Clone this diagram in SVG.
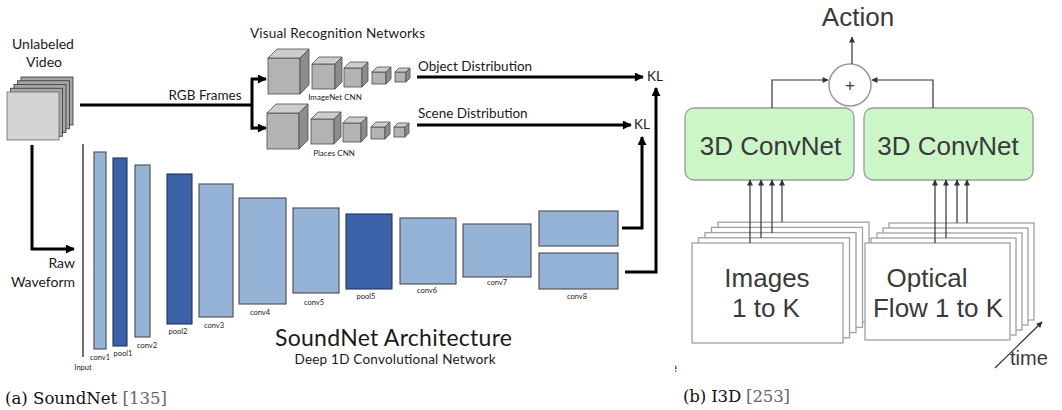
<svg xmlns="http://www.w3.org/2000/svg" width="1062" height="410" viewBox="0 0 1062 410">
  <style>
    .cal { font-family: Lato, "Liberation Sans", sans-serif; fill: #1a1a1a; }
    .hel { font-family: "Liberation Sans", Arial, sans-serif; fill: #3a3a3a; }
    .cap { font-family: "DejaVu Serif", "Liberation Serif", serif; font-size: 16.6px; fill: #111; }
    .ref { fill: #666; }
    .lbl { font-size: 7.5px; text-anchor: middle; }
    .thick { fill: none; stroke: #000; stroke-width: 3; }
    .thin { fill: none; stroke: #333; stroke-width: 1.2; }
    .lite { fill: #95b3d7; stroke: #4a4a4a; stroke-width: 1.1; }
    .dark { fill: #3b62a8; stroke: #1f3660; stroke-width: 1.1; }
    .cf { fill: #b3b3b3; stroke: #4d4d4d; stroke-width: 0.8; }
    .ct { fill: #cdcdcd; stroke: #4d4d4d; stroke-width: 0.8; }
    .cs { fill: #8c8c8c; stroke: #4d4d4d; stroke-width: 0.8; }
    .frame { fill: #fff; stroke: #a0a0a0; stroke-width: 1.3; }
    .green { fill: #ccf5c8; stroke: #9a9a9a; stroke-width: 1.3; }
  </style>
  <defs>
    <marker id="bigHead" viewBox="0 0 10 10" refX="9" refY="5" markerWidth="11" markerHeight="9" markerUnits="userSpaceOnUse" orient="auto">
      <path d="M0,0 L10,5 L0,10 z" fill="#000"/>
    </marker>
    <marker id="smallHead" viewBox="0 0 10 10" refX="9" refY="5" markerWidth="7" markerHeight="6" markerUnits="userSpaceOnUse" orient="auto">
      <path d="M0,0 L10,5 L0,10 z" fill="#333"/>
    </marker>
    <clipPath id="fragClip"><rect x="675" y="350" width="10" height="30"/></clipPath>
    <!-- one row of CNN cubes: front, top and side faces -->
    <g id="cubeRow">
      <rect class="cf" x="268" y="58" width="32" height="36"/>
      <polygon class="ct" points="268,58 277,49 309,49 300,58"/>
      <polygon class="cs" points="300,58 309,49 309,85 300,94"/>
      <rect class="cf" x="312" y="64" width="23" height="25"/>
      <polygon class="ct" points="312,64 319,57 342,57 335,64"/>
      <polygon class="cs" points="335,64 342,57 342,82 335,89"/>
      <rect class="cf" x="344" y="68" width="18" height="19"/>
      <polygon class="ct" points="344,68 350,62 368,62 362,68"/>
      <polygon class="cs" points="362,68 368,62 368,81 362,87"/>
      <rect class="cf" x="372" y="72" width="14" height="12"/>
      <polygon class="ct" points="372,72 377,67 391,67 386,72"/>
      <polygon class="cs" points="386,72 391,67 391,79 386,84"/>
      <rect class="cf" x="395" y="72" width="11" height="10"/>
      <polygon class="ct" points="395,72 399,68 410,68 406,72"/>
      <polygon class="cs" points="406,72 410,68 410,78 406,82"/>
    </g>
  </defs>

  <rect width="1062" height="410" fill="#fff"/>

  <!-- ===== SoundNet ===== -->
  <g id="video">
    <text class="cal" x="43" y="49" font-size="14" text-anchor="middle">Unlabeled</text>
    <text class="cal" x="44" y="67" font-size="14" text-anchor="middle">Video</text>
    <rect x="21" y="77" width="52" height="48" fill="#a6a6a6" stroke="#333" stroke-width="0.8"/>
    <rect x="17.5" y="80.75" width="52" height="48" fill="#a6a6a6" stroke="#333" stroke-width="0.8"/>
    <rect x="14" y="84.5" width="52" height="48" fill="#a6a6a6" stroke="#333" stroke-width="0.8"/>
    <rect x="10.5" y="88.25" width="52" height="48" fill="#a6a6a6" stroke="#333" stroke-width="0.8"/>
    <rect x="7" y="92" width="52" height="48" fill="#d4d4d4" stroke="#666" stroke-width="0.8"/>
  </g>

  <g id="visual-recognition">
    <text class="cal" x="250" y="38" font-size="13.5" textLength="175">Visual Recognition Networks</text>
  </g>
  <g id="imagenet-cnn">
    <use href="#cubeRow"/>
    <text class="cal" x="335" y="100" font-size="8" text-anchor="middle">ImageNet CNN</text>
  </g>
  <g id="places-cnn">
    <use href="#cubeRow" transform="translate(-1,55)"/>
    <text class="cal" x="334" y="156" font-size="8" text-anchor="middle">Places CNN</text>
  </g>

  <g id="kl-object">
    <text class="cal" x="647" y="81" font-size="13.5">KL</text>
  </g>
  <g id="kl-scene">
    <text class="cal" x="634" y="129" font-size="13.5">KL</text>
  </g>

  <g id="raw-waveform">
    <text class="cal" x="75" y="268" font-size="14" text-anchor="end">Raw</text>
    <text class="cal" x="75" y="287" font-size="14" text-anchor="end">Waveform</text>
  </g>

  <g id="soundnet-layers">
    <line x1="83" y1="144" x2="83" y2="357" stroke="#222" stroke-width="1.3"/>
    <text class="cal lbl" x="83" y="370">Input</text>
    <rect class="lite" x="94" y="152" width="12" height="197"/>
    <text class="cal lbl" x="100" y="360">conv1</text>
    <rect class="dark" x="113" y="158" width="14" height="188"/>
    <text class="cal lbl" x="123" y="356">pool1</text>
    <rect class="lite" x="135" y="165" width="15" height="172"/>
    <text class="cal lbl" x="147" y="348">conv2</text>
    <rect class="dark" x="167" y="174" width="25" height="150"/>
    <text class="cal lbl" x="178" y="334">pool2</text>
    <rect class="lite" x="199" y="184" width="34" height="133"/>
    <text class="cal lbl" x="214" y="328">conv3</text>
    <rect class="lite" x="239" y="198" width="47" height="106"/>
    <text class="cal lbl" x="260" y="315">conv4</text>
    <rect class="lite" x="293" y="208" width="46" height="85"/>
    <text class="cal lbl" x="314" y="305">conv5</text>
    <rect class="dark" x="346" y="214" width="46" height="75"/>
    <text class="cal lbl" x="366" y="299">pool5</text>
    <rect class="lite" x="400" y="218" width="56" height="66"/>
    <text class="cal lbl" x="427" y="293">conv6</text>
    <rect class="lite" x="463" y="224" width="68" height="53"/>
    <text class="cal lbl" x="497" y="285">conv7</text>
    <rect class="lite" x="539" y="211" width="79" height="35"/>
    <rect class="lite" x="539" y="253" width="79" height="36"/>
    <text class="cal lbl" x="577" y="299">conv8</text>
  </g>

  <g id="soundnet-title">
    <text class="cal" x="393.5" y="346" font-size="23" text-anchor="middle" textLength="237">SoundNet Architecture</text>
    <text class="cal" x="395" y="364" font-size="13.5" text-anchor="middle" textLength="201">Deep 1D Convolutional Network</text>
  </g>

  <g id="soundnet-connectors">
    <line class="thick" x1="80" y1="105" x2="252" y2="105"/>
    <text class="cal" x="205" y="100" font-size="13.5" text-anchor="middle">RGB Frames</text>
    <line class="thick" x1="252" y1="78" x2="252" y2="129.5"/>
    <line class="thick" x1="251" y1="79" x2="266" y2="79" marker-end="url(#bigHead)"/>
    <line class="thick" x1="251" y1="128" x2="266" y2="128" marker-end="url(#bigHead)"/>
    <line class="thick" x1="417" y1="77" x2="643" y2="77" marker-end="url(#bigHead)"/>
    <text class="cal" x="418" y="71" font-size="13.5">Object Distribution</text>
    <line class="thick" x1="417" y1="125" x2="631" y2="125" marker-end="url(#bigHead)"/>
    <text class="cal" x="418" y="118" font-size="13.5">Scene Distribution</text>
    <polyline class="thick" points="622,228 642,228 642,137" marker-end="url(#bigHead)"/>
    <polyline class="thick" points="625,272 656,272 656,88" marker-end="url(#bigHead)"/>
    <polyline class="thick" points="32,145 32,249 74,249" marker-end="url(#bigHead)"/>
  </g>

  <!-- ===== I3D ===== -->
  <g id="action">
    <text class="hel" x="858" y="26" font-size="26" text-anchor="middle">Action</text>
  </g>
  <g id="sum">
    <circle cx="850" cy="85" r="21" fill="#fff" stroke="#9a9a9a" stroke-width="1.5"/>
    <text class="hel" x="850" y="91" font-size="17" text-anchor="middle">+</text>
  </g>
  <g id="convnet-rgb">
    <rect class="green" x="685" y="108" width="169" height="72" rx="9"/>
    <text class="hel" x="770.5" y="155" font-size="26" text-anchor="middle">3D ConvNet</text>
  </g>
  <g id="convnet-flow">
    <rect class="green" x="864" y="108" width="169" height="72" rx="9"/>
    <text class="hel" x="948" y="155" font-size="26" text-anchor="middle">3D ConvNet</text>
  </g>

  <g id="images-stack">
    <rect class="frame" x="718" y="222.2" width="151" height="100"/>
    <rect class="frame" x="711.5" y="227.4" width="151" height="100"/>
    <rect class="frame" x="705" y="232.6" width="151" height="100"/>
    <rect class="frame" x="698.5" y="237.8" width="151" height="100"/>
    <rect class="frame" x="692" y="243" width="151" height="100"/>
    <text class="hel" x="767" y="287" font-size="26" text-anchor="middle" fill="#444">Images</text>
    <text class="hel" x="766" y="317" font-size="26" text-anchor="middle" fill="#444">1 to K</text>
  </g>
  <g id="flow-stack">
    <rect class="frame" x="889" y="223" width="145" height="97"/>
    <rect class="frame" x="883" y="228" width="145" height="97"/>
    <rect class="frame" x="877" y="233" width="145" height="97"/>
    <rect class="frame" x="871" y="238" width="145" height="97"/>
    <rect class="frame" x="865" y="243" width="145" height="97"/>
    <text class="hel" x="927" y="287" font-size="26" text-anchor="middle" fill="#444">Optical</text>
    <text class="hel" x="938" y="317" font-size="26" text-anchor="middle" fill="#444">Flow 1 to K</text>
  </g>

  <g id="i3d-connectors">
    <line class="thin" x1="852" y1="64" x2="852" y2="37" marker-end="url(#smallHead)"/>
    <polyline class="thin" points="772,108 772,80 828,80" marker-end="url(#smallHead)"/>
    <polyline class="thin" points="933,108 933,80 872,80" marker-end="url(#smallHead)"/>
    <line class="thin" x1="750" y1="243" x2="750" y2="180" marker-end="url(#smallHead)"/>
    <line class="thin" x1="761" y1="238" x2="761" y2="180" marker-end="url(#smallHead)"/>
    <line class="thin" x1="772" y1="233" x2="772" y2="180" marker-end="url(#smallHead)"/>
    <line class="thin" x1="782" y1="222" x2="782" y2="180" marker-end="url(#smallHead)"/>
    <line class="thin" x1="935" y1="243" x2="935" y2="180" marker-end="url(#smallHead)"/>
    <line class="thin" x1="946" y1="238" x2="946" y2="180" marker-end="url(#smallHead)"/>
    <line class="thin" x1="957" y1="223" x2="957" y2="180" marker-end="url(#smallHead)"/>
    <line class="thin" x1="967" y1="223" x2="967" y2="180" marker-end="url(#smallHead)"/>
    <line class="thin" x1="995" y1="368" x2="1042" y2="322" marker-end="url(#smallHead)"/>
  </g>
  <text class="hel" x="1010" y="365" font-size="20" fill="#333">time</text>
  <text class="hel" x="670" y="372" font-size="13" fill="#555" clip-path="url(#fragClip)">e</text>

  <!-- captions -->
  <text class="cap" x="5" y="404" textLength="162">(a) SoundNet <tspan class="ref">[135]</tspan></text>
  <text class="cap" x="683" y="402" textLength="107">(b) I3D <tspan class="ref">[253]</tspan></text>
</svg>
